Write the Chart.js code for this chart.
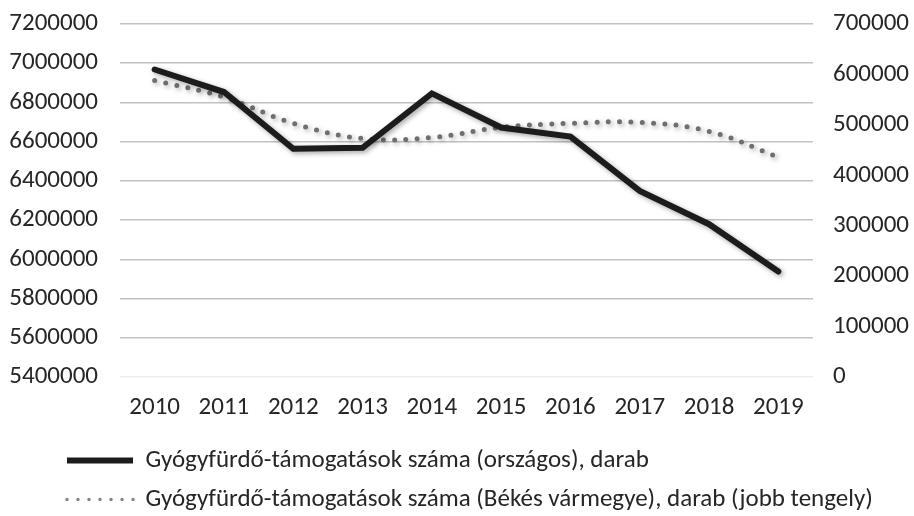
<!DOCTYPE html>
<html>
<head>
<meta charset="utf-8">
<script src="https://cdn.jsdelivr.net/npm/chart.js@4"></script>
<style>
  html, body { margin: 0; padding: 0; background: #fff; }
  #wrap { width: 914px; height: 516px; }
</style>
</head>
<body>
<div id="wrap"><canvas id="spaChart"></canvas></div>
<script>
// Gyógyfürdő-támogatások, 2010-2019

const years = ['2010', '2011', '2012', '2013', '2014', '2015', '2016', '2017', '2018', '2019'];
const countryValues = [6968000, 6853000, 6564000, 6569000, 6846000, 6672000, 6626000, 6349000, 6179000, 5938000];
const bekesValues = [588000, 555000, 503000, 473000, 475000, 495000, 503000, 505000, 487000, 436000];
const countryLabel = 'Gyógyfürdő-támogatások száma (országos), darab';
const bekesLabel = 'Gyógyfürdő-támogatások száma (Békés vármegye), darab (jobb tengely)';

Chart.defaults.font.family = 'Carlito, Lato, sans-serif';
Chart.defaults.font.size = 25;
Chart.defaults.color = '#262626';

// soft shadow under the lines, like the original
const lineShadow = {
    id: 'lineShadow',
    beforeDatasetsDraw(chart) {
        const ctx = chart.ctx;
        ctx.save();
        ctx.shadowColor = 'rgba(0, 0, 0, 0.35)';
        ctx.shadowBlur = 5;
        ctx.shadowOffsetX = 2;
        ctx.shadowOffsetY = 2;
    },
    afterDatasetsDraw(chart) {
        chart.ctx.restore();
    }
};

// move the legend rows to where they sit in the original
const legendShift = {
    id: 'legendShift',
    afterLayout(chart) {
        chart.legend.left += 43;
        chart.legend.top += 6;
    }
};

const defaultLabels = Chart.defaults.plugins.legend.labels.generateLabels;

const noOverhang = (s) => {
    s.paddingTop = 0;
    s.paddingBottom = 0;
};

const ctx = document.getElementById('spaChart');

new Chart(ctx, {
    type: 'line',
    data: {
        labels: years,
        datasets: [{
            label: countryLabel,
            data: countryValues,
            yAxisID: 'y',
            borderColor: '#1c1c1c',
            backgroundColor: '#1c1c1c',
            borderWidth: 6,
            borderCapStyle: 'round',
            tension: 0,
            pointRadius: 0
        }, {
            label: bekesLabel,
            data: bekesValues,
            yAxisID: 'y1',
            borderColor: '#6f6f6f',
            backgroundColor: '#6f6f6f',
            borderWidth: 5,
            borderDash: [0, 11.3],
            borderCapStyle: 'round',
            tension: 0.4,
            pointRadius: 0
        }]
    },
    options: {
        responsive: true,
        maintainAspectRatio: false,
        animation: false,
        layout: {
            padding: {left: 10, right: 0, top: 24, bottom: 0}
        },
        scales: {
            x: {
                offset: true,
                afterFit: (s) => { s.height = 51; },
                grid: {display: false},
                border: {display: false},
                ticks: {padding: 8, maxRotation: 0}
            },
            y: {
                position: 'left',
                min: 5400000,
                max: 7200000,
                afterFit: (s) => { s.width = 110; noOverhang(s); },
                ticks: {
                    stepSize: 200000,
                    padding: 22,
                    callback: (v) => String(v)
                },
                grid: {
                    drawTicks: false,
                    lineWidth: 1.5,
                    color: (c) => c.tick && c.tick.value === 5400000 ? '#eeeeee' : '#c2c2c2'
                },
                border: {display: false}
            },
            y1: {
                position: 'right',
                min: 0,
                max: 700000,
                afterFit: (s) => { s.width = 101; noOverhang(s); },
                ticks: {
                    stepSize: 100000,
                    padding: 20,
                    callback: (v) => String(v)
                },
                grid: {display: false, drawTicks: false},
                border: {display: false}
            }
        },
        plugins: {
            legend: {
                display: true,
                position: 'bottom',
                align: 'start',
                labels: {
                    boxWidth: 66,
                    boxHeight: 0,
                    padding: 14,
                    color: '#262626',
                    generateLabels: (chart) => {
                        const items = defaultLabels(chart);
                        items[1].lineDash = [0, 11];
                        items[1].lineWidth = 3.5;
                        items[1].strokeStyle = '#858585';
                        return items;
                    }
                }
            },
            tooltip: {enabled: false}
        }
    },
    plugins: [lineShadow, legendShift]
});
</script>
</body>
</html>
